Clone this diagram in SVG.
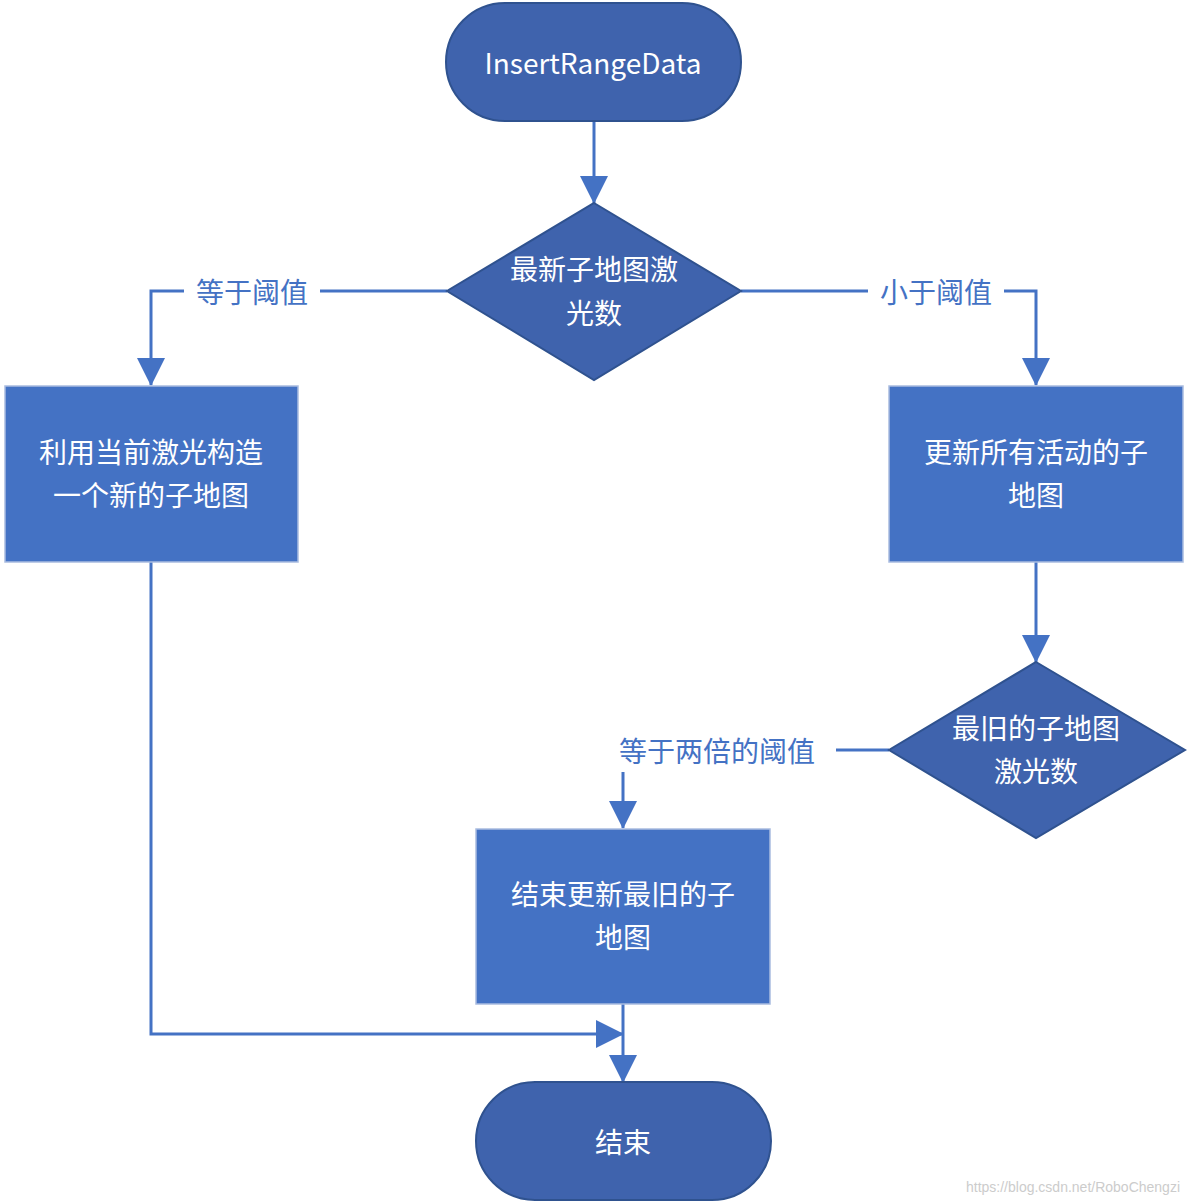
<svg xmlns="http://www.w3.org/2000/svg" width="1188" height="1203" viewBox="0 0 1188 1203">
<style>
.t{font-family:"Noto Sans CJK SC","Noto Sans",sans-serif;font-size:28px;fill:#fff;text-anchor:middle;dominant-baseline:central}
.l{font-family:"Noto Sans CJK SC","Noto Sans",sans-serif;font-size:28px;fill:#4472C4;text-anchor:middle;dominant-baseline:central}
.term{fill:#3F63AD;stroke:#2F528F;stroke-width:2}
.box{fill:#4472C4;stroke:#A9BCE0;stroke-width:1.5}
.c{fill:none;stroke:#4472C4;stroke-width:3}
</style>
<defs><marker id="a" markerWidth="10" markerHeight="10" refX="9" refY="5" orient="auto" markerUnits="userSpaceOnUse" viewBox="0 0 10 10"><path d="M0,0L10,5L0,10z" fill="#4472C4"/></marker>
<marker id="b" markerWidth="28" markerHeight="28" refX="27" refY="14" orient="auto" markerUnits="userSpaceOnUse"><path d="M0,0L28,14L0,28z" fill="#4472C4"/></marker></defs>
<rect width="1188" height="1203" fill="#fff"/>
<g id="connectors">
<path class="c" d="M594,121V203" marker-end="url(#b)"/>
<path class="c" d="M447,291H151V385" marker-end="url(#b)"/>
<path class="c" d="M741,291H1036V385" marker-end="url(#b)"/>
<path class="c" d="M1036,562V662" marker-end="url(#b)"/>
<path class="c" d="M889,750H623V828" marker-end="url(#b)"/>
<path class="c" d="M151,562V1034H623" marker-end="url(#b)"/>
<path class="c" d="M623,1004V1082" marker-end="url(#b)"/>
<rect x="184" y="272" width="136" height="38" fill="#fff"/><text class="l" x="252" y="291">等于阈值</text>
<rect x="868" y="272" width="136" height="38" fill="#fff"/><text class="l" x="936" y="291">小于阈值</text>
<rect x="598" y="728" width="238" height="44" fill="#fff"/><text class="l" x="717" y="750">等于两倍的阈值</text>
</g>
<g id="start"><rect class="term" x="446" y="3" width="295" height="118" rx="59"/><text class="t" x="593" y="62">InsertRangeData</text></g>
<g id="d1"><path class="term" d="M594,203L741,291L594,380L447,291z"/><text class="t" x="594" y="268">最新子地图激</text><text class="t" x="594" y="312">光数</text></g>
<g id="bl"><rect class="box" x="5" y="386" width="293" height="176"/><text class="t" x="151" y="451">利用当前激光构造</text><text class="t" x="151" y="494">一个新的子地图</text></g>
<g id="br"><rect class="box" x="889" y="386" width="294" height="176"/><text class="t" x="1036" y="451">更新所有活动的子</text><text class="t" x="1036" y="494">地图</text></g>
<g id="d2"><path class="term" d="M1036,662L1185,750L1036,838L889,750z"/><text class="t" x="1036" y="727">最旧的子地图</text><text class="t" x="1036" y="770">激光数</text></g>
<g id="bm"><rect class="box" x="476" y="829" width="294" height="175"/><text class="t" x="623" y="893">结束更新最旧的子</text><text class="t" x="623" y="936">地图</text></g>
<g id="end"><rect class="term" x="476" y="1082" width="295" height="118" rx="59"/><text class="t" x="623" y="1141">结束</text></g>
<text x="1180" y="1187" font-family="Liberation Sans,sans-serif" font-size="14" fill="#ccc" text-anchor="end" dominant-baseline="central">https://blog.csdn.net/RoboChengzi</text>
</svg>
